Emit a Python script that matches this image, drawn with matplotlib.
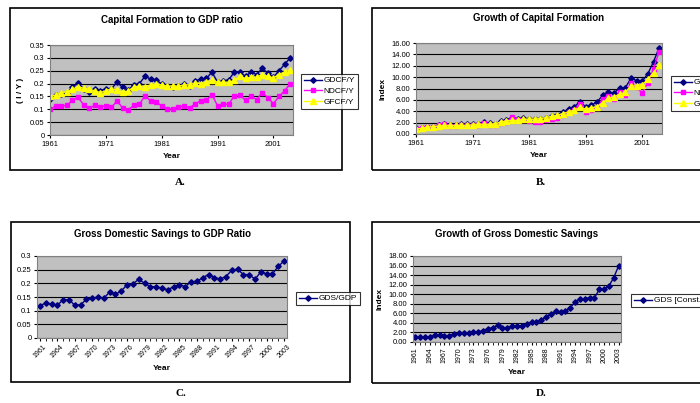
import numpy as np
import matplotlib.pyplot as plt
from matplotlib.patches import Rectangle

years = np.arange(1961, 2005)
years43 = np.arange(1961, 2004)

gdcf_y = [0.14,0.155,0.16,0.165,0.185,0.203,0.18,0.168,0.178,0.172,0.18,0.18,0.205,0.185,0.175,0.195,0.2,0.228,0.218,0.215,0.198,0.19,0.185,0.19,0.2,0.19,0.21,0.218,0.22,0.245,0.205,0.21,0.215,0.245,0.245,0.228,0.245,0.235,0.26,0.24,0.225,0.25,0.275,0.3]
ndcf_y = [0.1,0.112,0.113,0.115,0.135,0.147,0.118,0.105,0.115,0.11,0.113,0.107,0.133,0.105,0.098,0.115,0.12,0.152,0.133,0.13,0.112,0.103,0.1,0.107,0.113,0.105,0.122,0.133,0.135,0.157,0.113,0.12,0.12,0.152,0.155,0.135,0.15,0.138,0.165,0.145,0.122,0.15,0.172,0.2]
gfcf_y = [0.15,0.155,0.165,0.168,0.178,0.188,0.182,0.178,0.172,0.165,0.172,0.18,0.175,0.168,0.17,0.188,0.19,0.188,0.195,0.197,0.195,0.19,0.19,0.19,0.195,0.195,0.203,0.2,0.205,0.215,0.205,0.205,0.205,0.212,0.228,0.22,0.225,0.225,0.235,0.228,0.222,0.235,0.245,0.253]

gdcf_idx = [1,1.1,1.2,1.3,1.5,1.7,1.6,1.6,1.7,1.7,1.8,1.8,2.1,1.9,1.8,2.2,2.5,2.9,2.7,2.8,2.6,2.6,2.7,2.9,3.2,3.4,3.9,4.4,4.8,5.7,4.8,5.1,5.6,6.8,7.3,7.2,8.1,8.1,9.8,9.4,9.3,10.6,12.7,15.2]
ndcf_idx = [0.9,1.1,1.2,1.2,1.5,1.7,1.4,1.4,1.5,1.5,1.6,1.6,1.9,1.6,1.5,1.9,2.1,3.0,2.5,2.5,2.2,2.1,2.1,2.4,2.7,2.8,3.3,3.8,4.3,5.3,3.8,4.3,4.5,6.2,6.7,6.2,7.3,6.9,9.0,8.2,7.2,9.0,11.5,14.5]
gfcf_idx = [0.9,1.0,1.2,1.3,1.4,1.5,1.5,1.5,1.5,1.5,1.6,1.7,1.7,1.7,1.8,2.1,2.3,2.4,2.4,2.6,2.6,2.6,2.7,2.9,3.1,3.3,3.6,3.9,4.2,4.7,4.4,4.6,4.8,5.5,6.3,6.5,7.0,7.3,8.4,8.5,8.7,9.6,10.8,12.1]

gds_gdp = [0.118,0.128,0.124,0.12,0.14,0.14,0.12,0.121,0.142,0.145,0.15,0.146,0.168,0.16,0.172,0.195,0.198,0.215,0.2,0.188,0.187,0.183,0.176,0.188,0.195,0.188,0.206,0.207,0.221,0.232,0.221,0.216,0.225,0.248,0.252,0.232,0.232,0.215,0.242,0.235,0.235,0.262,0.282]
gds_idx = [1.0,1.1,1.1,1.1,1.4,1.4,1.3,1.3,1.7,1.8,1.9,1.8,2.1,2.1,2.4,2.8,3.0,3.5,3.0,3.0,3.3,3.3,3.4,3.8,4.1,4.2,4.7,5.2,5.8,6.5,6.3,6.5,7.2,8.3,9.1,9.0,9.3,9.2,11.0,11.1,11.7,13.5,15.9]

W, H = 700, 403
fig = plt.figure(figsize=(7, 4.03), dpi=100)
plt.rcParams['font.family'] = ['Liberation Sans', 'DejaVu Sans']
NAVY, PINK, YEL = '#000080', '#ff00ff', '#ffff00'
GREY = '#c0c0c0'

def box(x0, y0, x1, y1):
    fig.patches.append(Rectangle((x0/W, 1-y1/H), (x1-x0)/W, (y1-y0)/H,
                                 transform=fig.transFigure, fill=False,
                                 lw=1.2, ec='black'))

def mkax(x0, y0, x1, y1):
    ax = fig.add_axes([x0/W, 1-y1/H, (x1-x0)/W, (y1-y0)/H])
    ax.set_facecolor(GREY)
    for s in ax.spines.values():
        s.set_color('#808080')
    ax.tick_params(labelsize=5.5, length=2, pad=2)
    return ax

def legend(ax, handles, labels, x0, y0):
    lg = fig.legend(handles, labels, loc='upper left',
                    bbox_to_anchor=(x0/W, 1-y0/H), fontsize=6, frameon=True,
                    fancybox=False, edgecolor='black', handlelength=2.2,
                    borderpad=0.3, labelspacing=0.35, handletextpad=0.2)
    lg.get_frame().set_linewidth(0.8)

# A
box(10, 8, 342, 170)
ax = mkax(50, 45, 293, 135)
la = ax.plot(years, gdcf_y, color=NAVY, marker='D', ms=2.8, lw=1)[0]
lb = ax.plot(years, ndcf_y, color=PINK, marker='s', ms=3.2, lw=1)[0]
lc = ax.plot(years, gfcf_y, color=YEL, marker='^', ms=3.8, lw=1)[0]
ax.set_xlim(1961, 2004.5)
ax.set_ylim(0, 0.35)
ax.set_yticks(np.arange(0, 0.351, 0.05))
ax.set_yticklabels(['0', '0.05', '0.1', '0.15', '0.2', '0.25', '0.3', '0.35'])
ax.set_xticks(range(1961, 2005, 10))
ax.grid(axis='y', color='black', lw=0.8)
ax.set_title('Capital Formation to GDP ratio', fontsize=7, fontweight='bold', pad=16)
ax.set_xlabel('Year', fontsize=6, fontweight='bold')
ax.set_ylabel('( I / Y )', fontsize=6, fontweight='bold')
legend(ax, [la, lb, lc], ['GDCF/Y', 'NDCF/Y', 'GFCF/Y'], 297, 70)
fig.text(180/W, 1-182/H, 'A.', fontsize=8, fontweight='bold', family='Liberation Serif', ha='center', va='center')

# B
box(372, 8, 712, 170)
ax = mkax(416, 43, 662, 134)
la = ax.plot(years, gdcf_idx, color=NAVY, marker='D', ms=2.8, lw=1)[0]
lb = ax.plot(years, ndcf_idx, color=PINK, marker='s', ms=3.2, lw=1)[0]
lc = ax.plot(years, gfcf_idx, color=YEL, marker='^', ms=3.8, lw=1)[0]
ax.set_xlim(1961, 2004.5)
ax.set_ylim(0, 16)
ax.set_yticks(np.arange(0, 16.1, 2))
ax.yaxis.set_major_formatter('{x:.2f}')
ax.set_xticks(range(1961, 2005, 10))
ax.grid(axis='y', color='black', lw=0.8)
ax.set_title('Growth of Capital Formation', fontsize=7, fontweight='bold', pad=16)
ax.set_xlabel('Year', fontsize=6, fontweight='bold')
ax.set_ylabel('Index', fontsize=6, fontweight='bold')
legend(ax, [la, lb, lc], ['GDCF/Y', 'NDCF/Y', 'GFCF/Y'], 667, 72)
fig.text(541/W, 1-182/H, 'B.', fontsize=8, fontweight='bold', family='Liberation Serif', ha='center', va='center')

# C
box(11, 222, 350, 382)
ax = mkax(37, 256, 287, 338)
ld = ax.plot(years43, gds_gdp, color=NAVY, marker='D', ms=2.8, lw=1)[0]
ax.set_xlim(1960.5, 2003.5)
ax.set_ylim(0, 0.3)
ax.set_yticks(np.arange(0, 0.301, 0.05))
ax.set_yticklabels(['0', '0.05', '0.1', '0.15', '0.2', '0.25', '0.3'])
ax.set_xticks(years43, minor=True)
ax.set_xticks(range(1961, 2004, 3))
ax.tick_params(axis='x', rotation=45, labelsize=5)
ax.tick_params(axis='x', which='minor', length=2)
ax.grid(axis='y', color='black', lw=0.8)
ax.set_title('Gross Domestic Savings to GDP Ratio', fontsize=7, fontweight='bold', pad=14)
ax.set_xlabel('Year', fontsize=6, fontweight='bold')
legend(ax, [ld], ['GDS/GDP'], 292, 288)
fig.text(181/W, 1-393/H, 'C.', fontsize=8, fontweight='bold', family='Liberation Serif', ha='center', va='center')

# D
box(372, 222, 712, 383)
ax = mkax(413, 256, 621, 342)
ld = ax.plot(years43, gds_idx, color=NAVY, marker='D', ms=2.8, lw=1)[0]
ax.set_xlim(1960.5, 2003.5)
ax.set_ylim(0, 18)
ax.set_yticks(np.arange(0, 18.1, 2))
ax.yaxis.set_major_formatter('{x:.2f}')
ax.set_xticks(years43, minor=True)
ax.set_xticks(range(1961, 2004, 3))
ax.tick_params(axis='x', rotation=90, labelsize=5)
ax.tick_params(axis='x', which='minor', length=2)
ax.grid(axis='y', color='black', lw=0.8)
ax.set_title('Growth of Gross Domestic Savings', fontsize=7, fontweight='bold', pad=14)
ax.set_xlabel('Year', fontsize=6, fontweight='bold')
ax.set_ylabel('Index', fontsize=6, fontweight='bold')
legend(ax, [ld], ['GDS [Const.Prices]'], 627, 290)
fig.text(541/W, 1-393/H, 'D.', fontsize=8, fontweight='bold', family='Liberation Serif', ha='center', va='center')

fig.savefig('out.png', dpi=100)
